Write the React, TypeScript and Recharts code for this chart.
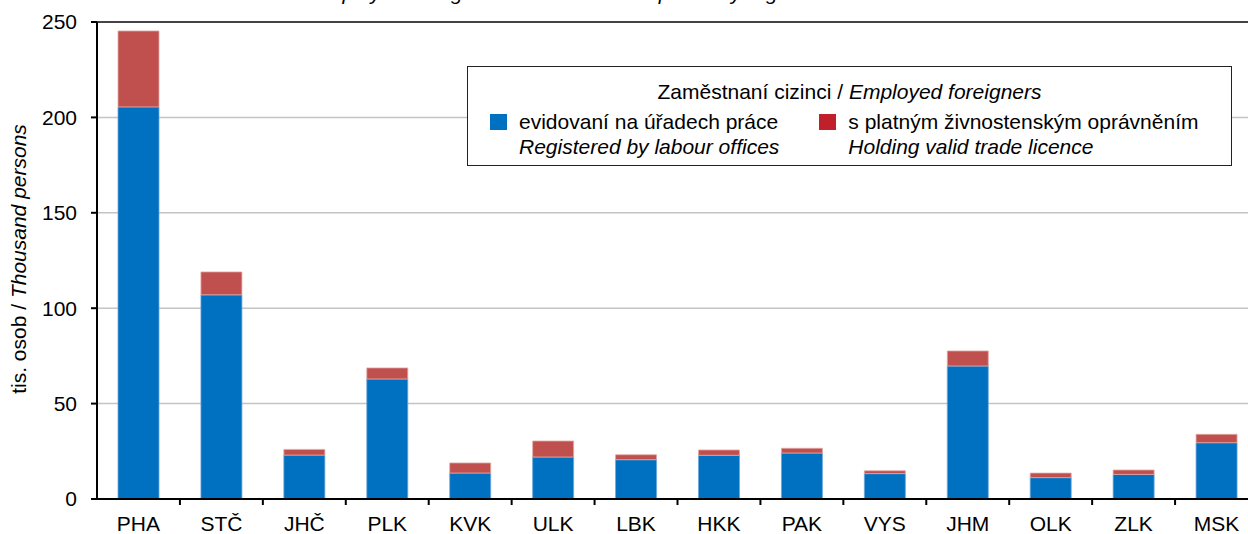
import { Bar, BarChart, CartesianGrid, ReferenceLine, XAxis, YAxis } from 'recharts'

const regions = ['PHA', 'STČ', 'JHČ', 'PLK', 'KVK', 'ULK', 'LBK', 'HKK', 'PAK', 'VYS', 'JHM', 'OLK', 'ZLK', 'MSK']
// thousand persons
const registered = [205.5, 107, 23, 62.9, 13.6, 22, 20.6, 22.9, 24.1, 13.3, 69.7, 11.2, 12.9, 29.5]
const tradeLicence = [39.8, 12, 3, 5.8, 5.3, 8.4, 2.6, 2.8, 2.5, 1.5, 7.9, 2.4, 2.3, 4.4]
const yTicks = [0, 50, 100, 150, 200, 250]

const data = regions.map((r, i) => ({ region: r, registered: registered[i], trade: tradeLicence[i] }))

const W = 1248
const H = 534
// the plot runs a little past the right edge of the picture
const CHART_W = 1258
const LEFT = 97
const FONT = '"Liberation Sans", Arial, sans-serif'
const BLUE = '#0070C0'
const RED = '#C0504D'

function XTick(props: any) {
  const { x, y, payload, index } = props
  const step = (CHART_W - LEFT) / regions.length
  return (
    <g>
      {index > 0 && <line x1={x - step / 2} x2={x - step / 2} y1={y} y2={y + 6} stroke="#000" strokeWidth={2} />}
      <text x={x} y={y + 32} textAnchor="middle" fontSize={21} fontFamily={FONT} fill="#000">
        {payload.value}
      </text>
    </g>
  )
}

function YTitle() {
  return (
    <text transform="translate(26, 259) rotate(-90)" textAnchor="middle" fontSize={21} fontFamily={FONT} fill="#000">
      <tspan>tis. osob / </tspan>
      <tspan fontStyle="italic">Thousand persons</tspan>
    </text>
  )
}

function LegendItem({ color, cz, en }: { color: string; cz: string; en: string }) {
  return (
    <div style={{ display: 'flex', alignItems: 'flex-start' }}>
      <div style={{ width: 17, height: 16, background: color, marginTop: 5, marginRight: 12 }} />
      <div style={{ lineHeight: '25px', whiteSpace: 'nowrap' }}>
        <div>{cz}</div>
        <div style={{ fontStyle: 'italic' }}>{en}</div>
      </div>
    </div>
  )
}

function LegendBox() {
  return (
    <div
      style={{
        position: 'absolute',
        left: 467,
        top: 66,
        width: 765,
        height: 100,
        boxSizing: 'border-box',
        border: '1.5px solid #222',
        background: '#fff',
        fontFamily: FONT,
        fontSize: 21,
        color: '#000',
      }}
    >
      <div style={{ position: 'absolute', top: 12, left: 0, right: 0, textAlign: 'center', lineHeight: '25px' }}>
        Zaměstnaní cizinci / <i>Employed foreigners</i>
      </div>
      <div style={{ position: 'absolute', top: 42, left: 22, display: 'flex', gap: 40 }}>
        <LegendItem color={BLUE} cz="evidovaní na úřadech práce" en="Registered by labour offices" />
        <LegendItem color="#C0202A" cz="s platným živnostenským oprávněním" en="Holding valid trade licence" />
      </div>
    </div>
  )
}

export default function App() {
  return (
    <div style={{ position: 'absolute', left: 0, top: 0, width: W, height: H, background: '#fff', overflow: 'hidden' }}>
      <div
        style={{
          position: 'absolute',
          top: -19,
          left: 255,
          width: 790,
          textAlign: 'center',
          fontFamily: FONT,
          fontSize: 21,
          fontStyle: 'italic',
          whiteSpace: 'nowrap',
        }}
      >
        Employed foreigners in the Czech Republic by region as at 31 December
      </div>
      <BarChart width={CHART_W} height={H} data={data} margin={{ top: 22, right: 0, bottom: 0, left: 0 }} barSize={41}>
        <CartesianGrid vertical={false} stroke="#c4c4c4" strokeWidth={1.5} />
        <XAxis
          dataKey="region"
          tick={<XTick />}
          tickLine={false}
          tickSize={0}
          tickMargin={0}
          interval={0}
          axisLine={{ stroke: '#000', strokeWidth: 2 }}
          height={35}
        />
        <YAxis
          domain={[0, 250]}
          ticks={yTicks}
          width={LEFT}
          tickSize={6}
          tickMargin={14}
          tickLine={{ stroke: '#000', strokeWidth: 2 }}
          axisLine={{ stroke: '#000', strokeWidth: 2 }}
          tick={{ fontSize: 21, fontFamily: FONT, fill: '#000' }}
          label={<YTitle />}
        />
        <ReferenceLine y={250} stroke="#444" strokeWidth={2} />
        <Bar dataKey="registered" stackId="a" fill={BLUE} stroke="#6FA6DA" strokeWidth={0.8} isAnimationActive={false} />
        <Bar dataKey="trade" stackId="a" fill={RED} stroke="#E3A9A7" strokeWidth={0.8} isAnimationActive={false} />
      </BarChart>
      <LegendBox />
    </div>
  )
}
